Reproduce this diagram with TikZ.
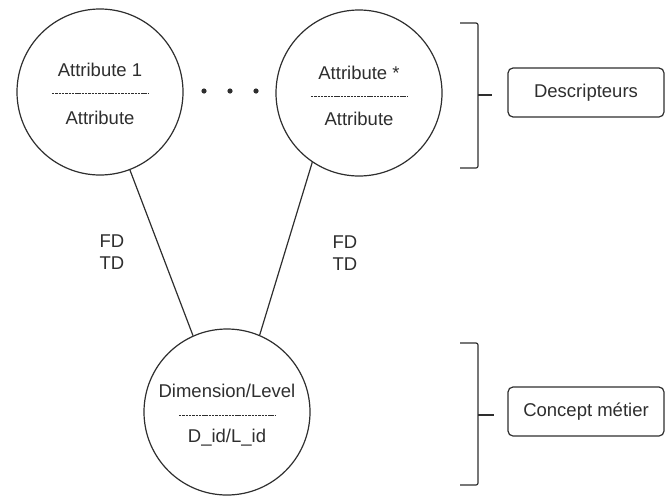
\documentclass[tikz,border=0pt]{standalone}
\usepackage{fontspec}
\setmainfont{Liberation Sans}
\usetikzlibrary{positioning}
\definecolor{ink}{HTML}{2E2E2E}

\begin{document}
\begin{tikzpicture}[x=1pt, y=-1pt, line width=1.2pt, draw=ink,
  bubble/.style={circle, draw=ink, line width=1.2pt, minimum size=166pt, inner sep=0pt},
  lbl/.style={text=ink, font=\fontsize{18.5}{22}\selectfont, inner sep=0pt},
  sep/.style={draw=ink, line width=0.9pt, dash pattern=on 2.4pt off 0.9pt},
  tag/.style={draw=ink, rounded corners=5pt, minimum width=156pt, minimum height=49pt, text=ink, font=\fontsize{18.5}{22}\selectfont}]
\useasboundingbox (0,0) rectangle (668,498);

% Attributs
\node[bubble] (a1) at (100,92) {};
\node[lbl, anchor=base] (a1top) at ([yshift=16pt]a1.center) {Attribute 1};
\node[lbl, anchor=base] (a1bot) at ([yshift=-32pt]a1.center) {Attribute};
\draw[sep] ([xshift=-48pt,yshift=-1pt]a1.center) -- ([xshift=48pt,yshift=-1pt]a1.center);

\node[bubble] (a2) at (359,93) {};
\node[lbl, anchor=base] (a2top) at ([yshift=14pt]a2.center) {Attribute *};
\node[lbl, anchor=base] (a2bot) at ([yshift=-32pt]a2.center) {Attribute};
\draw[sep] ([xshift=-48pt,yshift=-3pt]a2.center) -- ([xshift=48pt,yshift=-3pt]a2.center);

% Points de suspension
\foreach \x in {204,230,256}
  \fill[ink] (\x,91) circle (2.6);

% Dimension / niveau
\node[bubble] (dl) at (227,412) {};
\node[lbl, anchor=base] (dltop) at ([yshift=15pt]dl.center) {Dimension/Level};
\node[lbl, anchor=base] (dlbot) at ([yshift=-30pt]dl.center) {D\_id/L\_id};
\draw[sep] ([xshift=-48pt,yshift=-3pt]dl.center) -- ([xshift=48pt,yshift=-3pt]dl.center);

% Liens
\draw (a1.291) -- (dl.114);
\draw (a2.236) -- (dl.67);
\node[lbl, align=center] (fd1) at (112,252) {FD\\TD};
\node[lbl, align=center] (fd2) at (345,253) {FD\\TD};

% Accolades
\draw[rounded corners=2pt] (460,23) -| (478,168) -- (460,168);
\draw (478,95) coordinate (b1) -- (492,95);
\draw[rounded corners=2pt] (460,343) -| (478,485) -- (460,485);
\draw (478,415) coordinate (b2) -- (494,415);

% Etiquettes
\node[tag] (desc) at (586,92.5) {Descripteurs};
\node[tag] (metier) at (586,411.5) {Concept métier};
\end{tikzpicture}
\end{document}
